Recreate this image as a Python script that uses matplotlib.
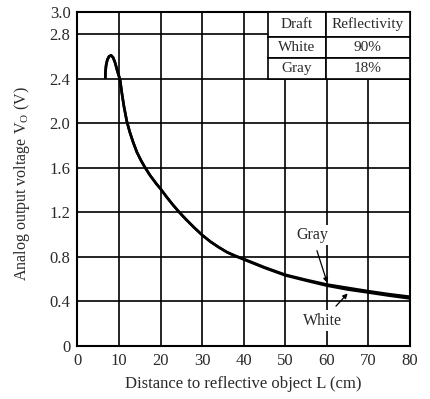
import matplotlib
matplotlib.use("Agg")
import matplotlib.pyplot as plt

plt.rcParams['font.family'] = ['Liberation Serif', 'DejaVu Serif']

# Data
dist_white = [6.7, 6.75, 6.9, 7.2, 7.6, 8.1, 8.6, 9.1, 9.6, 10.26, 10.7, 11.2, 11.87, 12.6, 13.4,
              14.3, 15.3, 16.3, 17.5, 19.0, 20.0, 21.5, 23.0, 24.5, 26.0, 28.0, 30.0, 32.0, 34.0,
              36.0, 38.0, 40.0, 45.0, 50.0, 55.0, 60.0, 65.0, 70.0, 75.0, 80.0]
volt_white = [2.40, 2.46, 2.52, 2.57, 2.60, 2.61, 2.59, 2.54, 2.47, 2.39, 2.27, 2.15, 2.02, 1.92, 1.83,
              1.74, 1.665, 1.60, 1.53, 1.455, 1.41, 1.335, 1.265, 1.20, 1.14, 1.065, 0.995, 0.935, 0.885,
              0.84, 0.805, 0.775, 0.70, 0.632, 0.585, 0.54, 0.505, 0.478, 0.45, 0.425]
dist_gray = dist_white
volt_gray = [2.40, 2.46, 2.52, 2.57, 2.60, 2.61, 2.59, 2.54, 2.47, 2.39, 2.27, 2.15, 2.02, 1.92, 1.83,
             1.74, 1.665, 1.60, 1.53, 1.455, 1.41, 1.335, 1.265, 1.20, 1.14, 1.065, 0.995, 0.935, 0.885,
             0.84, 0.808, 0.78, 0.705, 0.638, 0.592, 0.55, 0.52, 0.49, 0.463, 0.44]

x_ticks = [0, 10, 20, 30, 40, 50, 60, 70, 80]
y_ticks = [0, 0.4, 0.8, 1.2, 1.6, 2.0, 2.4, 2.8, 3.0]
y_tick_labels = ["0", "0.4", "0.8", "1.2", "1.6", "2.0", "2.4", "2.8", "3.0"]

table_header = ["Draft", "Reflectivity"]
table_rows = [["White", "90%"], ["Gray", "18%"]]

fig = plt.figure(figsize=(4.30, 3.99), dpi=100)
ax = fig.add_axes([0.180, 0.1336, 0.7735, 0.8364])

ax.set_xlim(0, 80)
ax.set_ylim(0, 3.0)
ax.set_xticks(x_ticks)
ax.set_yticks(y_ticks)
ax.set_yticklabels(y_tick_labels)
ax.tick_params(length=0, labelsize=12, pad=5, colors='#2a2a2a')
ax.grid(True, color='black', linewidth=1.2)
ax.set_axisbelow(True)
for s in ax.spines.values():
    s.set_linewidth(1.5)

ax.plot(dist_white, volt_white, color='black', linewidth=1.9, zorder=3, solid_capstyle='butt')
ax.plot(dist_gray, volt_gray, color='black', linewidth=1.9, zorder=3, solid_capstyle='butt')

ax.set_xlabel("Distance to reflective object L (cm)", fontsize=12, labelpad=5, color='#2a2a2a')
ax.set_ylabel("Analog output voltage V$_\\mathregular{O}$ (V)", fontsize=11.5, color='#2a2a2a')
ax.yaxis.set_label_coords(-0.135, 0.485)

# Annotations
ax.annotate("Gray", xy=(60.1, 0.565), xytext=(56.4, 0.995), fontsize=11.5, ha='center', va='center',
            color='#2a2a2a', zorder=5,
            bbox=dict(boxstyle='square,pad=0.15', fc='white', ec='none'),
            arrowprops=dict(arrowstyle='-|>', color='black', lw=0.9, mutation_scale=7,
                            shrinkA=4, shrinkB=0))
ax.annotate("White", xy=(65.0, 0.47), xytext=(59.0, 0.225), fontsize=11.5, ha='center', va='center',
            color='#2a2a2a', zorder=5,
            bbox=dict(boxstyle='square,pad=0.15', fc='white', ec='none'),
            arrowprops=dict(arrowstyle='-|>', color='black', lw=0.9, mutation_scale=7,
                            shrinkA=4, shrinkB=0))

# Table
cell_text = [table_header] + table_rows
tbl = ax.table(cellText=cell_text, colWidths=[0.174, 0.253], cellLoc='center',
               bbox=[0.573, 0.799, 0.427, 0.201], zorder=4)
tbl.auto_set_font_size(False)
tbl.set_fontsize(11)
heights = [0.075, 0.063, 0.063]
for (r, c), cell in tbl.get_celld().items():
    cell.set_height(heights[r])
    cell.set_linewidth(1.2)
    cell.set_edgecolor('black')
    cell.set_facecolor('white')
    cell.get_text().set_color('#2a2a2a')

fig.savefig("out.png", dpi=100)
